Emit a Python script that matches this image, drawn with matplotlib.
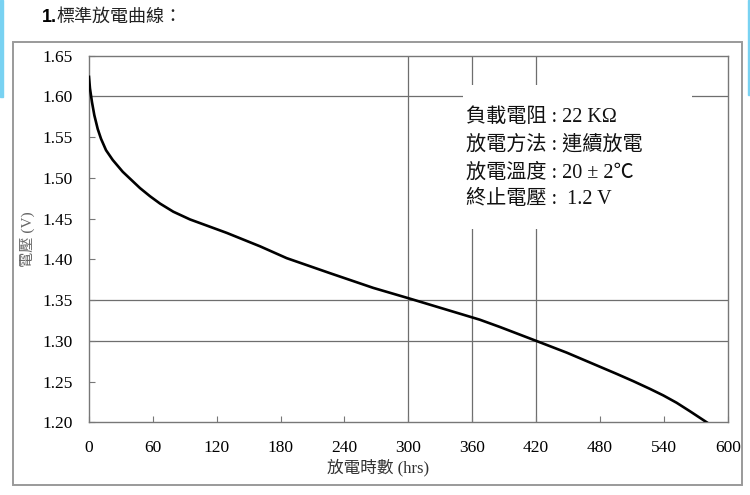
import matplotlib
matplotlib.use("Agg")
import matplotlib.pyplot as plt
from matplotlib.patches import Rectangle

# discharge curve
hours = [0, 0.9, 2.8, 5.0, 8.2, 11.3, 16, 22.3, 31.7, 47.9, 57.3, 66.7, 79.2,
         94.9, 110.6, 129.4, 151.2, 160.7, 185.7, 226.5, 267, 300.9, 367, 386,
         420, 448.8, 480.3, 495.6, 511.3, 527, 539.5, 552, 564.6, 580.3]
volts = [1.624, 1.610, 1.593, 1.577, 1.560, 1.548, 1.534, 1.522, 1.5075, 1.4875,
         1.4775, 1.4685, 1.4585, 1.449, 1.4415, 1.4325, 1.421, 1.416, 1.4015,
         1.383, 1.365, 1.352, 1.326, 1.317, 1.300, 1.2855, 1.268, 1.2595, 1.2505,
         1.241, 1.233, 1.224, 1.2135, 1.200]

x_ticks = [0, 60, 120, 180, 240, 300, 360, 420, 480, 540, 600]
y_ticks = [1.20, 1.25, 1.30, 1.35, 1.40, 1.45, 1.50, 1.55, 1.60, 1.65]
grid_x = [300, 360, 420]
grid_y = [1.60, 1.35, 1.30]

info_lines = ["負載電阻 : 22 K\u03a9",
              "放電方法 : 連續放電",
              "放電溫度 : 20 ± 2℃",
              "終止電壓 :  1.2 V"]

serif = ["Liberation Serif", "Noto Sans CJK TC", "DejaVu Sans"]
sans = ["Liberation Sans", "Noto Sans CJK TC", "DejaVu Sans"]

W, H = 750, 495
fig = plt.figure(figsize=(7.5, 4.95), dpi=100)

def px(x, y):
    return x / W, 1 - y / H

# little blue bits at the screenshot edges
fig.patches.append(Rectangle((0, 1 - 97 / H), 2.5 / W, 97 / H,
                             transform=fig.transFigure, color="#79d2f2", zorder=0))
fig.patches.append(Rectangle((747.5 / W, 1 - 95 / H), 2.5 / W, 95 / H,
                             transform=fig.transFigure, color="#79d2f2", zorder=0))

# outer gray frame
fig.patches.append(Rectangle(px(13, 485), (741.7 - 13) / W, (485 - 41.5) / H,
                             transform=fig.transFigure, fill=False,
                             edgecolor="#9a9a9a", linewidth=1.4, zorder=0))

fig.text(*px(42, 17), "1.", family=sans, fontsize=13, fontweight="bold",
         va="center", ha="left")
fig.text(*px(56, 17), "標準放電曲線：", family=sans, fontsize=13,
         va="center", ha="left", color="#222222")

ax = fig.add_axes([89 / W, 1 - 422.3 / H, (727.7 - 89) / W, (422.3 - 55.7) / H])
ax.set_xlim(0, 600)
ax.set_ylim(1.20, 1.65)

for g in grid_x:
    ax.axvline(g, color="#6e6e6e", linewidth=0.9, zorder=1)
for g in grid_y:
    ax.axhline(g, color="#6e6e6e", linewidth=0.9, zorder=1)

# white box behind the conditions text
ax.add_patch(Rectangle((351, 1.4376), 566.5 - 351, 1.614 - 1.4376,
                       facecolor="white", edgecolor="none", zorder=2))

ax.plot(hours, volts, color="black", linewidth=1.9, zorder=3,
        solid_joinstyle="round")

ax.set_xticks(x_ticks)
ax.set_yticks(y_ticks)
ax.set_yticklabels([f"{v:.2f}" for v in y_ticks])
ax.tick_params(direction="in", length=4, width=0.8, color="#777777",
               labelsize=12.5, pad=12)
ax.tick_params(axis="x", pad=13)
for lab in ax.get_xticklabels() + ax.get_yticklabels():
    lab.set_family(serif)

for s in ax.spines.values():
    s.set_color("#777777")
    s.set_linewidth(1.0)

ax.set_xlabel("放電時數 (hrs)", family=serif, fontsize=12, color="#333333")
ax.xaxis.set_label_coords((378 - 89) / (727.7 - 89), (422.3 - 468) / (422.3 - 55.7))
ax.xaxis.label.set_va("center")
ax.set_ylabel("電壓 (V)", family=serif, fontsize=11, color="#666666")
ax.yaxis.set_label_coords((27 - 89) / (727.7 - 89), 0.5)
ax.yaxis.label.set_va("center")

for i, line in enumerate(info_lines):
    fig.text(*px(466, 118 + 27.3 * i), line, family=serif, fontsize=14.5,
             va="center", ha="left", color="#111111")

fig.savefig("out.png", dpi=100)
